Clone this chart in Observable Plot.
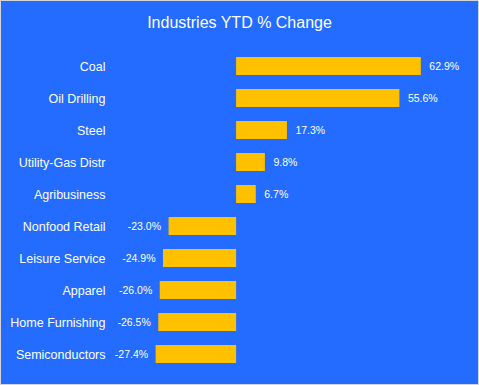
<!DOCTYPE html>
<html>
<head>
<meta charset="utf-8">
<script src="https://cdn.jsdelivr.net/npm/d3@7"></script>
<script src="https://cdn.jsdelivr.net/npm/@observablehq/plot@0.6"></script>
<style>
  html, body { margin: 0; padding: 0; background: #ffffff; }
  #chart {
    position: relative; width: 479px; height: 385px; box-sizing: border-box;
    border: 1px solid #d4d4d4; background: #236cff; overflow: hidden;
    font-family: "Liberation Sans", Arial, sans-serif; color: #ffffff;
  }
  #title {
    position: absolute; left: 0; right: 0; top: 12px; text-align: center;
    font-size: 16px; line-height: 20px; color: #ffffff;
  }
  #plot { position: absolute; left: 0; top: 40px; }
  #plot svg { background: transparent; overflow: visible; }
</style>
</head>
<body>
<div id="chart">
  <div id="title">Industries YTD % Change</div>
  <div id="plot"></div>
</div>
<script>
const categories = ["Coal", "Oil Drilling", "Steel", "Utility-Gas Distr", "Agribusiness",
  "Nonfood Retail", "Leisure Service", "Apparel", "Home Furnishing", "Semiconductors"];
const values = [62.9, 55.6, 17.3, 9.8, 6.7, -23.0, -24.9, -26.0, -26.5, -27.4];
const labels = ["62.9%", "55.6%", "17.3%", "9.8%", "6.7%", "-23.0%", "-24.9%", "-26.0%", "-26.5%", "-27.4%"];

const data = categories.map((c, i) => ({category: c, value: values[i], label: labels[i]}));

const chart = Plot.plot({
  width: 477,
  height: 343,
  marginTop: 2,
  marginBottom: 7,
  marginLeft: 147,
  marginRight: 51,
  style: {background: "transparent", color: "#ffffff", fontFamily: "Liberation Sans, Arial, sans-serif"},
  x: {domain: [-30, 65], axis: null},
  y: {domain: categories, padding: 0.4375, label: null},
  marks: [
    Plot.barX(data, {x: "value", y: "category", fill: "#ffc000"}),
    Plot.text(data.filter(d => d.value >= 0), {x: "value", y: "category", text: "label",
      textAnchor: "start", dx: 8, fill: "#ffffff", fontSize: 10.5}),
    Plot.text(data.filter(d => d.value < 0), {x: "value", y: "category", text: "label",
      textAnchor: "end", dx: -8, fill: "#ffffff", fontSize: 10.5}),
    Plot.axisY({tickSize: 0, tickPadding: 43, fontSize: 12.5, fill: "#ffffff", label: null})
  ]
});
document.getElementById("plot").appendChild(chart);
</script>
</body>
</html>
